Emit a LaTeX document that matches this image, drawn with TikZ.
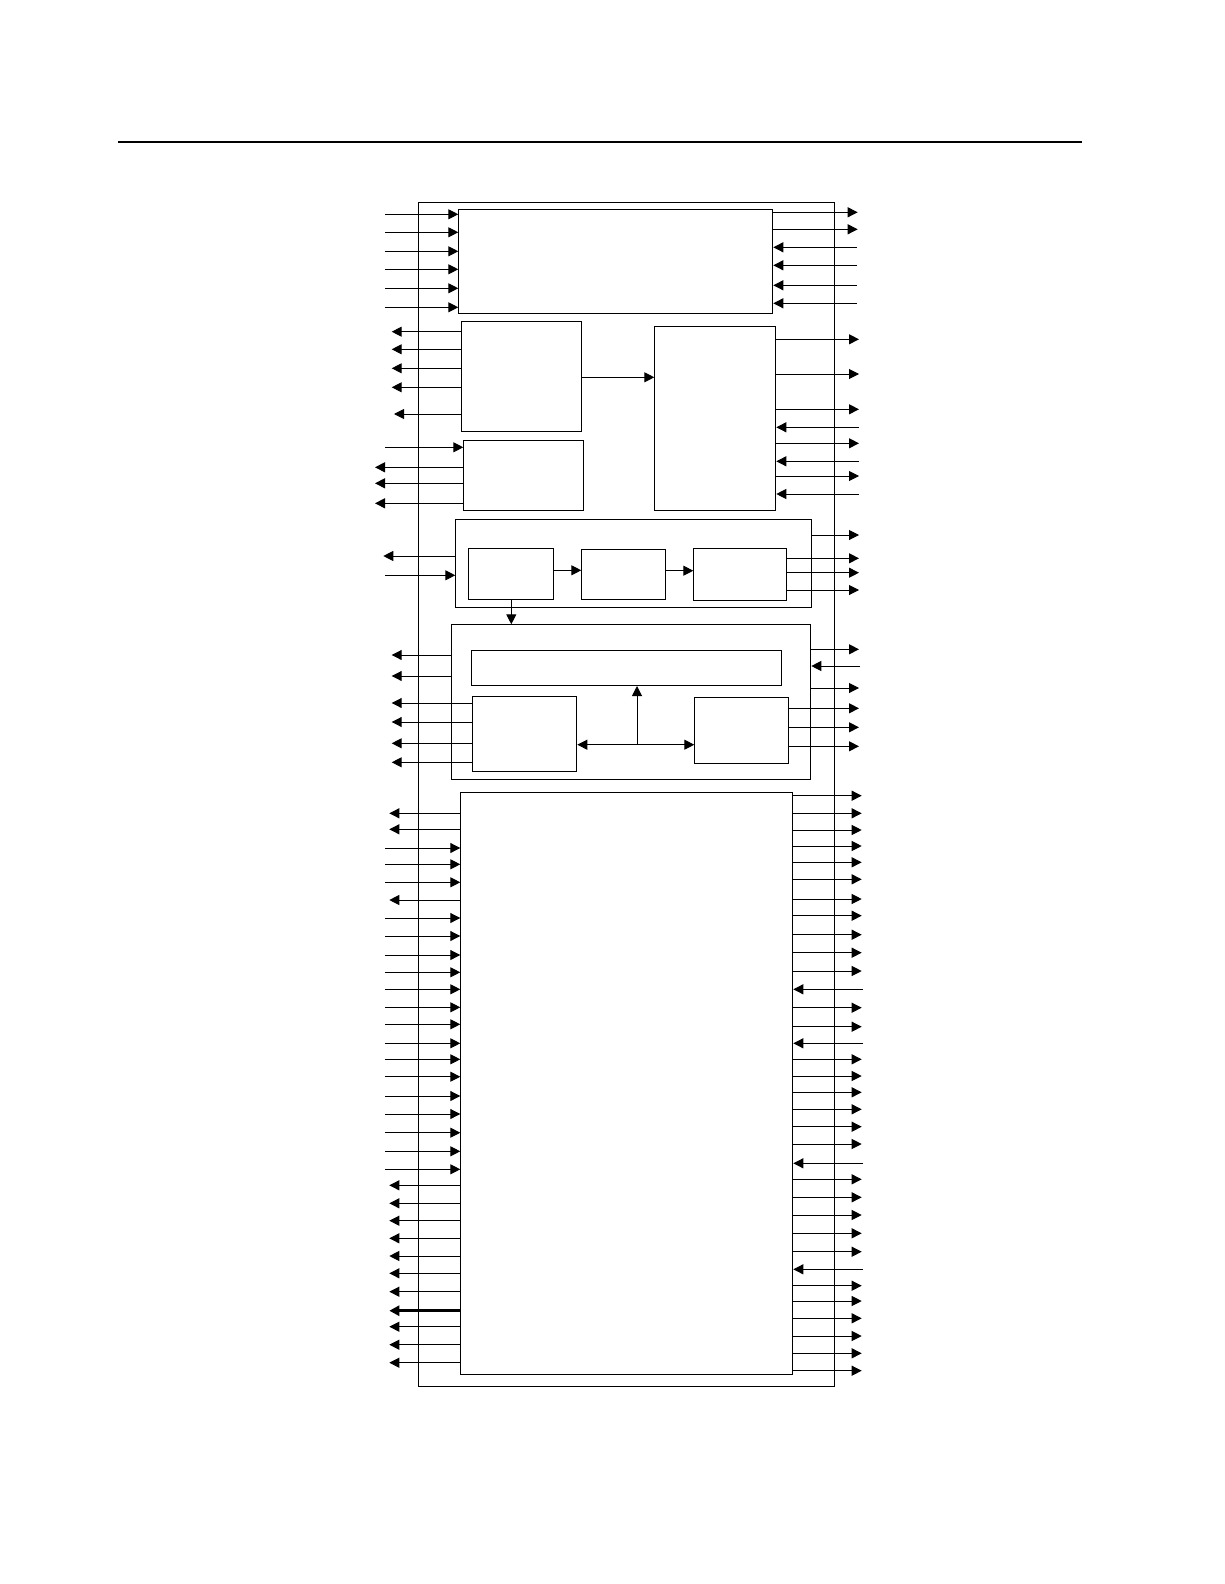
\documentclass[tikz,border=0pt]{standalone}
\usetikzlibrary{positioning}
\usetikzlibrary{arrows.meta}
\tikzset{blk/.style={draw,rectangle,inner sep=0pt,line width=1pt,anchor=north west},
	sig/.style={-{Triangle[length=10pt,width=10pt]},line width=1pt},}

\begin{document}
\begin{tikzpicture}[x=1pt,y=-1pt]
	\useasboundingbox (0,0) rectangle (1224,1584);
	\draw[line width=2pt] (118,141.7) -- (1081.7,141.7);

	% blocks
	\node[blk, minimum width=416pt, minimum height=1184.6pt] (chip) at (418.3,201.7) {};
	\node[blk, minimum width=314pt, minimum height=104pt] (A) at (458.3,209.3) {};
	\node[blk, minimum width=120pt, minimum height=109.7pt] (B) at (461.3,321.3) {};
	\node[blk, minimum width=121pt, minimum height=183.7pt] (C) at (654.3,326.3) {};
	\node[blk, minimum width=120pt, minimum height=69.7pt] (D) at (463.3,440.3) {};
	\node[blk, minimum width=356pt, minimum height=88pt] (E) at (455.3,519.3) {};
	\node[blk, minimum width=85pt, minimum height=51pt] (E1) at (468.3,548.3) {};
	\node[blk, minimum width=84pt, minimum height=50pt] (E2) at (581.3,549.3) {};
	\node[blk, minimum width=93pt, minimum height=52pt] (E3) at (693.3,548.3) {};
	\node[blk, minimum width=359pt, minimum height=155pt] (F) at (451.3,624.3) {};
	\node[blk, minimum width=310pt, minimum height=34.7pt] (F1) at (471.3,650.3) {};
	\node[blk, minimum width=104pt, minimum height=74.7pt] (F2) at (472.3,696.3) {};
	\node[blk, minimum width=94pt, minimum height=66pt] (F3) at (694.3,697.3) {};
	\node[blk, minimum width=332pt, minimum height=582pt] (G) at (460.3,792.3) {};

	% inner links
	\draw[sig] (B.east |- 0,377.3) -- (C.west |- 0,377.3);
	\draw[sig] (E1.east |- 0,570.3) -- (E2.west |- 0,570.3);
	\draw[sig] (E2.east |- 0,570.7) -- (E3.west |- 0,570.7);
	\draw[sig] (E1.south) -- (E1.south |- F.north);
	\draw[sig, {Triangle[length=10pt,width=10pt]}-{Triangle[length=10pt,width=10pt]}] (F2.east |- 0,744.7) -- (F3.west |- 0,744.7);
	\draw[sig] (637,744.7) -- (F1.south -| 637,0);

	% pins of A
	\foreach \y in {214.3,232.3,251.3,269.3,288.3,307.3}
		\draw[sig] (385,\y) -- (A.west |- 0,\y);
	\foreach \y in {212.3,229.3}
		\draw[sig] (A.east |- 0,\y) -- (857.7,\y);
	\foreach \y in {247.3,265.3,285.3,303.3}
		\draw[sig] (856.7,\y) -- (A.east |- 0,\y);

	% pins of B, C, D
	\foreach \y in {331.7,349.3,368.3,387.3}
		\draw[sig] (B.west |- 0,\y) -- (391.7,\y);
	\draw[sig] (B.west |- 0,414) -- (394,414);
	\foreach \y in {339.3,374,409.3,443.3,476}
		\draw[sig] (C.east |- 0,\y) -- (859,\y);
	\foreach \y in {427.3,461.3,494}
		\draw[sig] (859,\y) -- (C.east |- 0,\y);
	\draw[sig] (385,447.3) -- (D.west |- 0,447.3);
	\foreach \y in {467.3,483.3,503.3}
		\draw[sig] (D.west |- 0,\y) -- (375,\y);

	% pins of E
	\draw[sig] (E.west |- 0,556) -- (383.3,556);
	\draw[sig] (385,575.3) -- (E.west |- 0,575.3);
	\draw[sig] (E.east |- 0,535) -- (859,535);
	\foreach \y in {558.3,572.7,590}
		\draw[sig] (E3.east |- 0,\y) -- (859,\y);

	% pins of F
	\foreach \y in {655,676}
		\draw[sig] (F.west |- 0,\y) -- (391.7,\y);
	\foreach \y in {703,722,743.3,762.3}
		\draw[sig] (F2.west |- 0,\y) -- (391.7,\y);
	\foreach \y in {649.3,688}
		\draw[sig] (F.east |- 0,\y) -- (859,\y);
	\draw[sig] (860,666) -- (F.east |- 0,666);
	\foreach \y in {708.3,727.3,746.3}
		\draw[sig] (F3.east |- 0,\y) -- (859,\y);

	% pins of G
	\foreach \y in {813.3,829.3,900,1185.3,1203.3,1220.7,1238.3,1256,1273.3,1291.7,1326.7,1344.7,1362.7}
		\draw[sig] (G.west |- 0,\y) -- (389.3,\y);
	\draw[sig, line width=3pt] (G.west |- 0,1310.7) -- (389.3,1310.7);
	\foreach \y in {848,864.3,882.3,918,936,955,972.3,989.3,1007.3,1024.3,1043.3,1059.3,1076.7,1096,1114,1132.7,1151.3,1169.3}
		\draw[sig] (385,\y) -- (G.west |- 0,\y);
	\foreach \y in {795.7,813.3,830,846,862.3,879.3,899,915.7,934.7,952.7,971,1007.7,1026.7,1059.3,1076,1092.3,1109.3,1126.7,1144,1179.3,1197.3,1215,1233.3,1251.7,1285.7,1301,1318.3,1336,1353.3,1370.7}
		\draw[sig] (G.east |- 0,\y) -- (861.7,\y);
	\foreach \y in {989.3,1043.3,1163.3,1269.3}
		\draw[sig] (862.7,\y) -- (G.east |- 0,\y);
\end{tikzpicture}
\end{document}
